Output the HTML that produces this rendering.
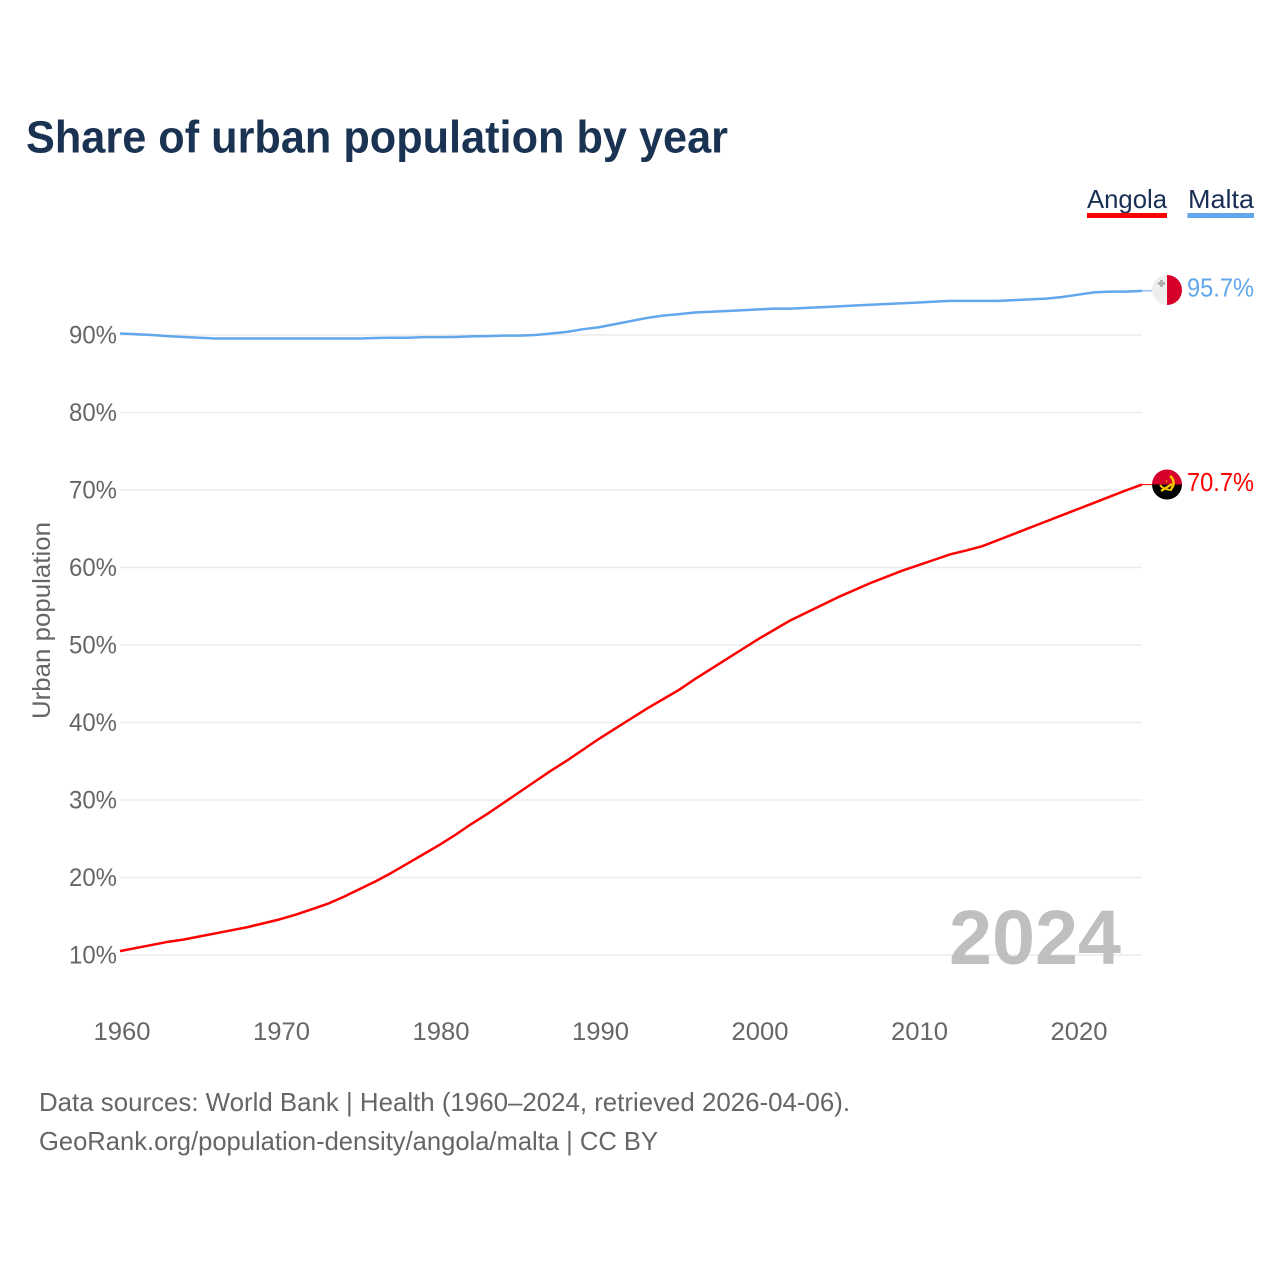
<!DOCTYPE html>
<html lang="en">
<head>
<meta charset="utf-8">
<title>Share of urban population by year</title>
<style>
html,body{margin:0;padding:0;background:#fff}
svg{display:block}
text{font-family:"Liberation Sans",sans-serif}
</style>
</head>
<body>
<svg id="chart" width="1280" height="1280" viewBox="0 0 1280 1280" xmlns="http://www.w3.org/2000/svg">
<defs>
<clipPath id="flag-clip-malta"><circle cx="1167" cy="290" r="15"/></clipPath>
<clipPath id="flag-clip-angola"><circle cx="1167" cy="484.5" r="15"/></clipPath>
</defs>
<rect width="1280" height="1280" fill="#fff"/>
<text x="26" y="152.500" font-size="45" font-weight="700" fill="#1a3353" textLength="702" lengthAdjust="spacingAndGlyphs">Share of urban population by year</text>

<g>
<text x="1087" y="208" font-size="26" fill="#1a2f55" textLength="80" lengthAdjust="spacingAndGlyphs">Angola</text>
<rect x="1087" y="213" width="80" height="5" fill="#ff0000"/>
</g>
<g>
<text x="1188" y="208" font-size="26" fill="#1a2f55" textLength="66" lengthAdjust="spacingAndGlyphs">Malta</text>
<rect x="1187.5" y="213" width="66.5" height="5" fill="#62a6ec"/>
</g>

<g id="grid"></g>
<g id="yticks"></g>
<g id="xticks"></g>
<text transform="translate(50,620.5) rotate(-90)" text-anchor="middle" font-size="25" fill="#666" textLength="197" lengthAdjust="spacingAndGlyphs">Urban population</text>

<text x="949" y="964" font-size="77" font-weight="700" fill="#bfbfbf" textLength="172" lengthAdjust="spacingAndGlyphs">2024</text>

<g id="series"></g>

<g clip-path="url(#flag-clip-malta)">
<rect x="1152" y="275" width="15" height="30" fill="#eeeeee"/>
<rect x="1167" y="275" width="15" height="30" fill="#d6002a"/>
<path d="M1160 280h3v2h2v3h-2v2h-3v-2h-2v-3h2z" fill="#b0b0b0"/>
</g>
<g clip-path="url(#flag-clip-angola)">
<rect x="1152" y="469" width="30" height="15.5" fill="#d6002a"/>
<rect x="1152" y="484.5" width="30" height="15.5" fill="#000"/>
<path d="M1170 476a8.500 8.500 0 0 1 1 13" fill="none" stroke="#f5c400" stroke-width="2.600"/>
<path d="M1161 491L1172 484" fill="none" stroke="#f5c400" stroke-width="2.400"/>
<path d="M1160 485q4 5 12 5" fill="none" stroke="#f5c400" stroke-width="2"/>
<path d="M1166 480l1.500 1.200-1.600 1z" fill="#f5c400"/>
</g>

<g id="end-labels"></g>

<text x="39" y="1111" font-size="26" fill="#666" textLength="811" lengthAdjust="spacingAndGlyphs">Data sources: World Bank | Health (1960–2024, retrieved 2026-04-06).</text>
<text x="39" y="1150" font-size="26" fill="#666" textLength="619" lengthAdjust="spacingAndGlyphs">GeoRank.org/population-density/angola/malta | CC BY</text>
</svg>

<script>
const years = [1960,1961,1962,1963,1964,1965,1966,1967,1968,1969,1970,1971,1972,1973,1974,1975,1976,1977,1978,1979,1980,1981,1982,1983,1984,1985,1986,1987,1988,1989,1990,1991,1992,1993,1994,1995,1996,1997,1998,1999,2000,2001,2002,2003,2004,2005,2006,2007,2008,2009,2010,2011,2012,2013,2014,2015,2016,2017,2018,2019,2020,2021,2022,2023,2024];
const angolaValues = [10.5,10.9,11.3,11.7,12.0,12.4,12.8,13.2,13.6,14.1,14.6,15.2,15.9,16.6,17.5,18.5,19.5,20.6,21.8,23.0,24.2,25.5,26.9,28.2,29.6,31.0,32.4,33.8,35.1,36.5,37.9,39.2,40.5,41.8,43.0,44.2,45.6,46.9,48.2,49.5,50.8,52.0,53.2,54.2,55.2,56.2,57.1,58.0,58.8,59.6,60.3,61.0,61.7,62.2,62.75,63.55,64.35,65.15,65.95,66.75,67.55,68.35,69.15,69.95,70.7];
const maltaValues = [90.2,90.1,90.0,89.85,89.75,89.65,89.55,89.55,89.55,89.55,89.55,89.55,89.55,89.55,89.55,89.55,89.62,89.65,89.65,89.72,89.72,89.75,89.82,89.85,89.92,89.92,90.0,90.2,90.4,90.75,91.0,91.4,91.8,92.2,92.5,92.7,92.9,93.0,93.1,93.2,93.3,93.4,93.4,93.5,93.6,93.7,93.8,93.9,94.0,94.1,94.2,94.3,94.4,94.4,94.4,94.4,94.5,94.6,94.7,94.9,95.2,95.5,95.6,95.6,95.7];
const yTickValues = [10,20,30,40,50,60,70,80,90];
const xTickYears = [1960,1970,1980,1990,2000,2010,2020];

const NS = 'http://www.w3.org/2000/svg';
function xScale(year){ return 120 + (year - 1960) * (1022 / 64); }
function yScale(pct){ return 955 - (pct - 10) * 7.75; }
function xLabelPos(year){ return 122 + (year - 1960) * 15.95; }
function make(tag, attrs, parent){
  const el = document.createElementNS(NS, tag);
  for (const k in attrs) el.setAttribute(k, attrs[k]);
  parent.appendChild(el);
  return el;
}

const grid = document.getElementById('grid');
const yticks = document.getElementById('yticks');
const xticks = document.getElementById('xticks');
const series = document.getElementById('series');
const endLabels = document.getElementById('end-labels');

yTickValues.forEach(function(v){
  const line = make('line', {x1:120, x2:1142, y1:yScale(v), y2:yScale(v), stroke:'#ececec', 'stroke-width':1.5}, grid);
  
  
  const label = make('text', {x:117, y:yScale(v)+8.5, 'text-anchor':'end', 'font-size':25, fill:'#666', textLength:48, lengthAdjust:'spacingAndGlyphs'}, yticks);
  label.textContent = v + '%';
  
  
});

xTickYears.forEach(function(y){
  const label = make('text', {x:xLabelPos(y), y:1040, 'text-anchor':'middle', 'font-size':25, fill:'#666', textLength:57, lengthAdjust:'spacingAndGlyphs'}, xticks);
  label.textContent = String(y);
  
  
});

function linePath(values){
  return values.map(function(v, i){
    return (i ? 'L' : 'M') + xScale(years[i]).toFixed(2) + ' ' + yScale(v).toFixed(2);
  }).join('');
}

const angolaLine = make('path', {d:linePath(angolaValues), fill:'none', stroke:'#ff0000', 'stroke-width':2.5, 'stroke-linejoin':'round'}, series);



const maltaLine = make('path', {d:linePath(maltaValues), fill:'none', stroke:'#62a6ec', 'stroke-width':2.5, 'stroke-linejoin':'round'}, series);



const angolaLast = angolaValues[angolaValues.length - 1];
const maltaLast = maltaValues[maltaValues.length - 1];

const angolaTail = make('line', {x1:1142, x2:1153, y1:yScale(angolaLast), y2:yScale(angolaLast), stroke:'#ff0000', 'stroke-width':1}, series);



const maltaTail = make('line', {x1:1142, x2:1153, y1:yScale(maltaLast), y2:yScale(maltaLast), stroke:'#62a6ec', 'stroke-width':1}, series);



const angolaValueLabel = make('text', {x:1187, y:yScale(angolaLast)+6.5, 'font-size':26, fill:'#ff0000', textLength:67, lengthAdjust:'spacingAndGlyphs'}, endLabels);
angolaValueLabel.textContent = angolaLast.toFixed(1) + '%';



const maltaValueLabel = make('text', {x:1187, y:yScale(maltaLast)+5.5, 'font-size':26, fill:'#62a6ec', textLength:67, lengthAdjust:'spacingAndGlyphs'}, endLabels);
maltaValueLabel.textContent = maltaLast.toFixed(1) + '%';


</script>
</body>
</html>
